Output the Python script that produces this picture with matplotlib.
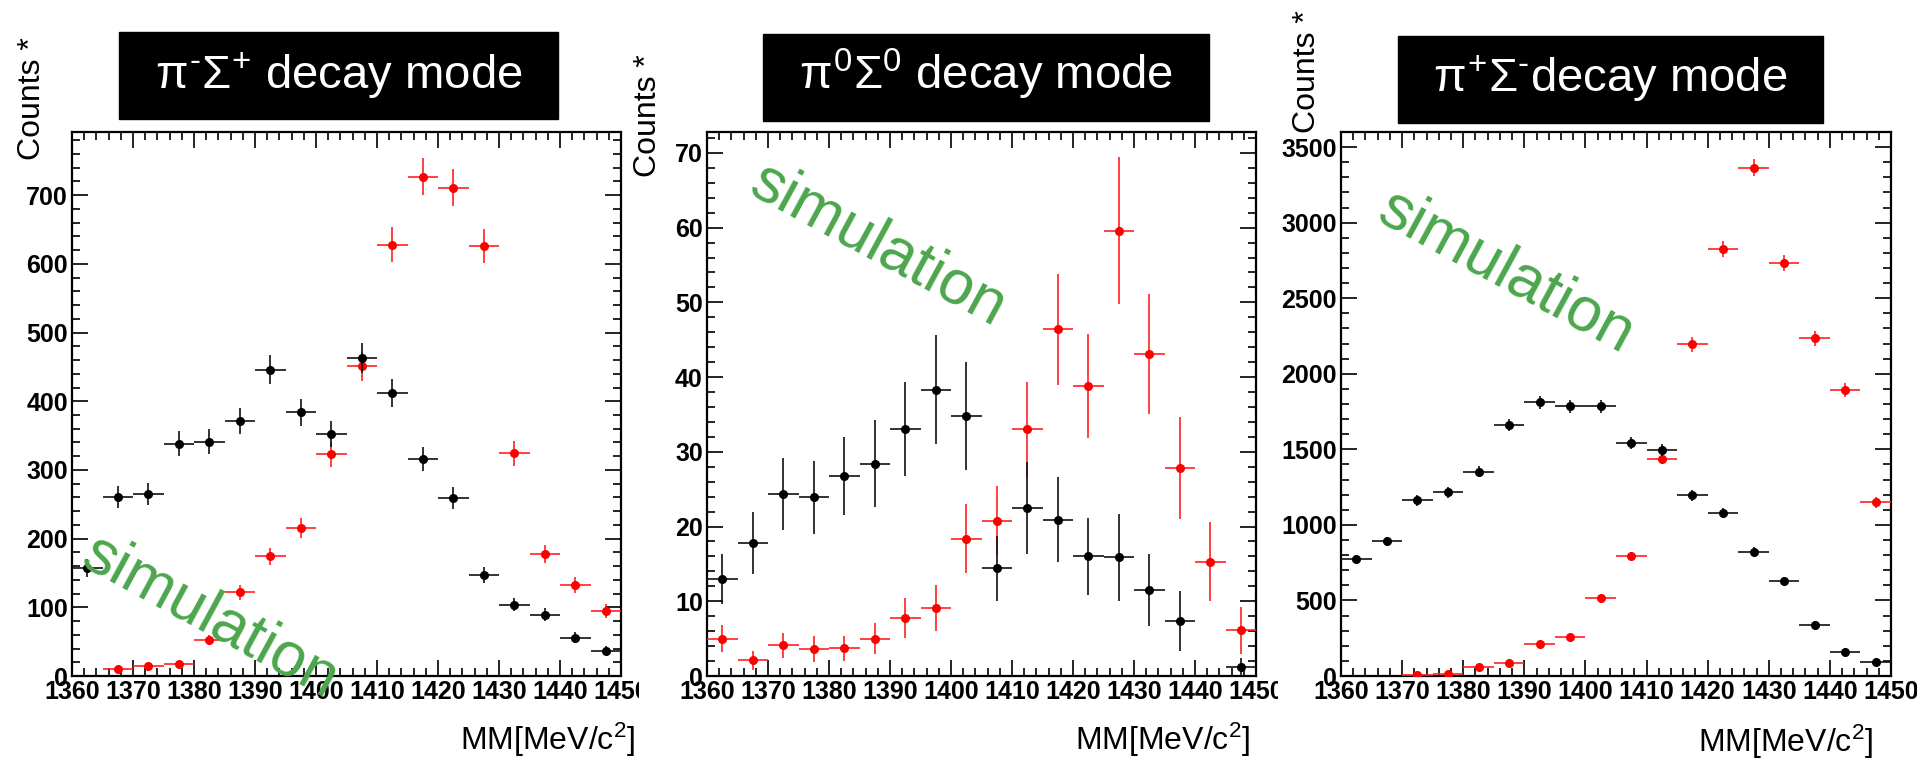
import matplotlib
matplotlib.use("Agg")
import matplotlib.pyplot as plt
from matplotlib.patches import Rectangle
from matplotlib.ticker import MultipleLocator
from matplotlib.transforms import Bbox, TransformedBbox
import numpy as np

# bin centres of the missing-mass histograms [MeV/c^2]
mm_centers = [1362.5, 1367.5, 1372.5, 1377.5, 1382.5, 1387.5, 1392.5, 1397.5, 1402.5,
              1407.5, 1412.5, 1417.5, 1422.5, 1427.5, 1432.5, 1437.5, 1442.5, 1447.5]
nan = np.nan

# pi- Sigma+ mode
pm_black = [157, 260, 265, 338, 341, 371, 446, 384, 352, 463, 412, 316, 259, 147, 104, 89, 56, 37]
pm_black_err = [13, 16, 16, 18, 18.5, 19, 21, 19.5, 19, 21.5, 20, 18, 16, 12, 10, 9.5, 7.5, 6]
pm_red = [nan, 10, 14, 17, 52, 122, 174, 216, 323, 451, 628, 727, 711, 626, 324, 177, 132, 95]
pm_red_err = [nan, 3, 4, 4, 7, 11, 13, 14.5, 18, 21, 25, 27, 26.5, 25, 18, 13, 11.5, 10]

# pi0 Sigma0 mode
zz_black = [13.0, 17.8, 24.4, 23.9, 26.8, 28.4, 33.0, 38.3, 34.8, 14.4, 22.5, 20.9, 16.0, 15.9, 11.5, 7.4, nan, 1.2]
zz_black_err = [3.3, 4.2, 4.8, 4.9, 5.2, 5.8, 6.3, 7.3, 7.2, 4.4, 6.2, 5.7, 5.1, 5.8, 4.8, 4.0, nan, 1.2]
zz_red = [5.0, 2.1, 4.1, 3.6, 3.7, 5.0, 7.8, 9.1, 18.4, 20.8, 33.0, 46.4, 38.8, 59.6, 43.1, 27.8, 15.3, 6.1]
zz_red_err = [1.8, 1.3, 1.7, 1.7, 1.7, 2.1, 2.7, 3.1, 4.6, 4.6, 6.4, 7.4, 7.0, 9.8, 8.0, 6.8, 5.3, 3.2]

# pi+ Sigma- mode
mp_black = [775, 892, 1162, 1215, 1352, 1661, 1811, 1785, 1785, 1540, 1498, 1195, 1078, 822, 630, 338, 161, 91]
mp_black_err = [28, 30, 34, 35, 37, 41, 42.5, 42, 42, 39, 39, 35, 33, 29, 25, 18, 13, 9.5]
mp_red = [nan, nan, 5, 10, 60, 86, 214, 256, 519, 795, 1438, 2194, 2823, 3365, 2732, 2234, 1893, 1149]
mp_red_err = [nan, nan, 2.2, 3, 8, 9, 15, 16, 23, 28, 38, 47, 53, 58, 52, 47, 43.5, 34]

titles = [r"$\pi^{\text{-}}\Sigma^{+}$ decay mode", r"$\pi^{0}\Sigma^{0}$ decay mode",
          r"$\pi^{+}\Sigma^{\text{-}}$decay mode"]

plt.rcParams["font.family"] = ["Liberation Sans", "DejaVu Sans"]
plt.rcParams["mathtext.fontset"] = "custom"
plt.rcParams["mathtext.rm"] = "Liberation Sans"
plt.rcParams["mathtext.it"] = "Liberation Sans"
plt.rcParams["mathtext.bf"] = "Liberation Sans:bold"

W, H = 1917, 760
fig = plt.figure(figsize=(W / 100, H / 100), dpi=100)


def fx(x):
    return x / W


def fy(y):
    return 1 - y / H


# layout in pixels: axes (left, right), title box (left, top, right, bottom)
panels = [
    dict(ax=(72, 621), box=(119, 32, 558, 119), base=89, ylim=792, major=100, minor=20,
         black=(pm_black, pm_black_err), red=(pm_red, pm_red_err),
         ylab=(32, 37), xlab=(635, 750), sim=(210, 617), clip=639),
    dict(ax=(707, 1256), box=(763, 34, 1209, 121), base=89, ylim=72.8, major=10, minor=2,
         black=(zz_black, zz_black_err), red=(zz_red, zz_red_err),
         ylab=(648, 54), xlab=(1250, 750), sim=(878, 245), clip=1278),
    dict(ax=(1341, 1891), box=(1398, 36, 1823, 123), base=92, ylim=3600, major=500, minor=100,
         black=(mp_black, mp_black_err), red=(mp_red, mp_red_err),
         ylab=(1307, 10), xlab=(1873, 752), sim=(1506, 272), clip=None),
]

top_px, bot_px = 132, 676
for p, title in zip(panels, titles):
    l, r = p["ax"]
    ax = fig.add_axes([fx(l), fy(bot_px), fx(r - l), (bot_px - top_px) / H])

    yr, er = p["red"]
    ax.errorbar(mm_centers, yr, yerr=er, xerr=2.5, fmt="o", color="red", ecolor="#ff2020",
                ms=5.5, elinewidth=1.2, capsize=0, zorder=3)
    yb, eb = p["black"]
    ax.errorbar(mm_centers, yb, yerr=eb, xerr=2.5, fmt="o", color="black", ecolor="#111111",
                ms=5.5, elinewidth=1.2, capsize=0, zorder=4)

    ax.set_xlim(1360, 1450)
    ax.set_ylim(0, p["ylim"])
    ax.set_xticks(np.arange(1360, 1451, 10))
    ax.xaxis.set_minor_locator(MultipleLocator(2))
    ax.yaxis.set_major_locator(MultipleLocator(p["major"]))
    ax.yaxis.set_minor_locator(MultipleLocator(p["minor"]))
    ax.tick_params(which="both", direction="in", top=True, right=True, width=1.2,
                   labelsize=18)
    ax.tick_params(which="major", length=11.5)
    ax.tick_params(which="minor", length=5.5)
    ax.tick_params(axis="x", pad=3)
    ax.tick_params(axis="y", pad=3)
    for lab in ax.get_xticklabels() + ax.get_yticklabels():
        lab.set_fontweight("bold")
    for s in ax.spines.values():
        s.set_linewidth(1.6)

    if p["clip"] is not None:
        clip_box = TransformedBbox(Bbox([[0, 0], [fx(p["clip"]), 1]]), fig.transFigure)
        last = ax.xaxis.get_major_ticks()[-1].label1
        last.set_clip_on(True)
        last.set_clip_box(clip_box)

    # black title box
    bl, bt, br, bb = p["box"]
    fig.add_artist(Rectangle((fx(bl), fy(bb)), fx(br - bl), (bb - bt) / H,
                             transform=fig.transFigure, color="black", zorder=5))
    fig.text(fx((bl + br) / 2), fy(p["base"]), title, color="white", fontsize=34,
             ha="center", va="baseline", zorder=6)

    # axis titles
    fig.text(fx(p["ylab"][0]), fy(p["ylab"][1]), "Counts *", rotation=90, fontsize=23,
             ha="center", va="top")
    fig.text(fx(p["xlab"][0]), fy(p["xlab"][1]), r"MM[MeV/c$^{2}$]", fontsize=23,
             ha="right", va="baseline")

    fig.text(fx(p["sim"][0]), fy(p["sim"][1]), "simulation", color="#4ca64c", fontsize=45,
             rotation=-28.5, ha="center", va="center", zorder=7)

fig.savefig("out.png", dpi=100)
